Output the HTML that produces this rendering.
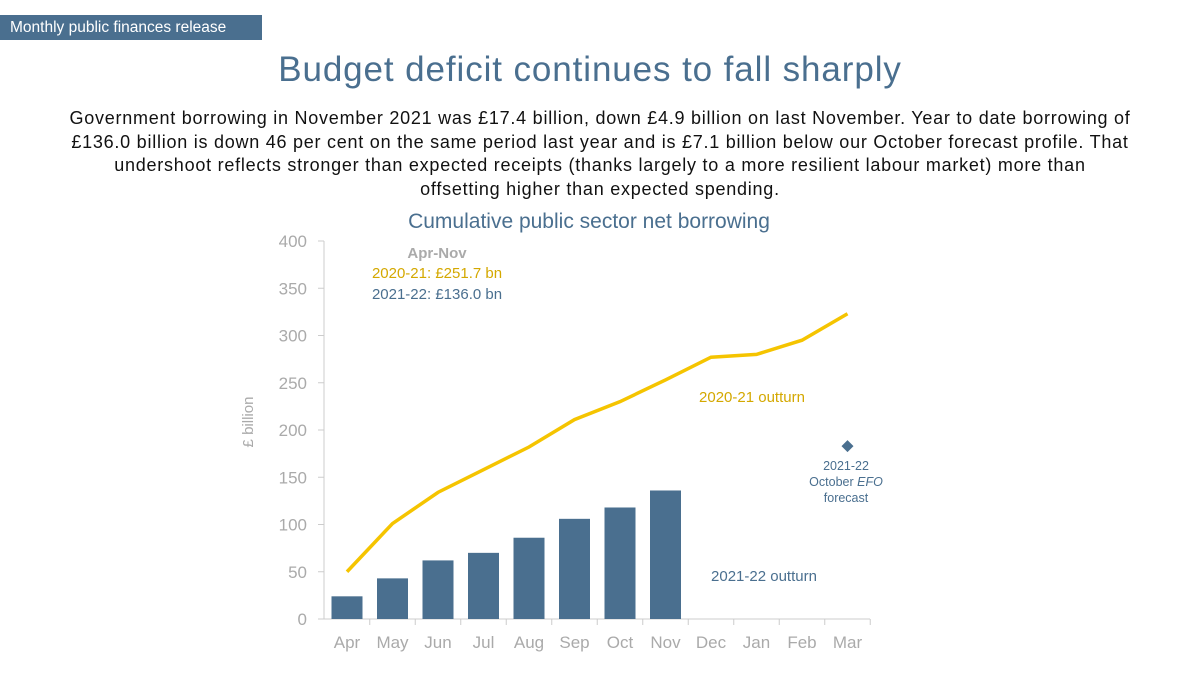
<!DOCTYPE html>
<html><head><meta charset="utf-8"><style>
body{margin:0;width:1200px;height:673px;background:#fff;font-family:"Liberation Sans",sans-serif;position:relative;overflow:hidden}
.tag{position:absolute;left:0;top:15px;width:262px;height:25px;background:#4a6f8f;color:#fff;font-size:15.5px;line-height:26px;padding-left:10px;box-sizing:border-box}
h1{position:absolute;top:50px;left:0;width:1180px;text-align:center;margin:0;font-weight:normal;font-size:35px;letter-spacing:0.9px;color:#4a6f8f}
.sub{position:absolute;top:107px;left:0;width:1200px;text-align:center;font-size:18px;letter-spacing:0.75px;line-height:23.5px;color:#111;white-space:nowrap}
</style></head><body>
<div class="tag">Monthly public finances release</div>
<h1>Budget deficit continues to fall sharply</h1>
<div class="sub">Government borrowing in November 2021 was £17.4 billion, down £4.9 billion on last November. Year to date borrowing of<br>£136.0 billion is down 46 per cent on the same period last year and is £7.1 billion below our October forecast profile. That<br>undershoot reflects stronger than expected receipts (thanks largely to a more resilient labour market) more than<br>offsetting higher than expected spending.</div>
<svg id="chart" width="1200" height="673" style="position:absolute;left:0;top:0" font-family="Liberation Sans, sans-serif">
<text x="589" y="228" text-anchor="middle" font-size="21" fill="#4a6f8f">Cumulative public sector net borrowing</text>
<text x="253" y="422" text-anchor="middle" font-size="15" fill="#aaa" transform="rotate(-90 253 422)">£ billion</text>
<text x="437" y="258" text-anchor="middle" font-size="15" font-weight="bold" fill="#aaa">Apr-Nov</text>
<text x="437" y="278" text-anchor="middle" font-size="15" fill="#d4a800">2020-21: £251.7 bn</text>
<text x="437" y="299" text-anchor="middle" font-size="15" fill="#4a6f8f">2021-22: £136.0 bn</text>
<text x="752" y="402" text-anchor="middle" font-size="15" fill="#d4a800">2020-21 outturn</text>
<text x="764" y="581" text-anchor="middle" font-size="15" fill="#4a6f8f">2021-22 outturn</text>
<g font-size="12.5" fill="#4a6f8f" text-anchor="middle">
<text x="846" y="470">2021-22</text><text x="846" y="486">October <tspan font-style="italic">EFO</tspan></text><text x="846" y="502">forecast</text></g>
<g id="g"></g>
</svg>
<script>
const months=["Apr","May","Jun","Jul","Aug","Sep","Oct","Nov","Dec","Jan","Feb","Mar"];
const bars2122=[24,43,62,70,86,106,118,136];
const line2021=[50,101,134,158,182,211,230,253,277,280,295,323];
const forecastMar=[183];
const yTicks=[0,50,100,150,200,250,300,350,400];
const ns="http://www.w3.org/2000/svg",g=document.getElementById('g');
const x=i=>347+i*45.5, y=v=>619-v*0.945;
function mk(t,a){const e=document.createElementNS(ns,t);for(const k in a)e.setAttribute(k,a[k]);g.appendChild(e);return e;}
yTicks.forEach(v=>{const t=mk('text',{x:307,y:y(v)+6,'text-anchor':'end','font-size':17,fill:'#aaa'});t.textContent=v;


const l=mk('line',{x1:318,x2:324,y1:y(v),y2:y(v),stroke:'#ccc'});

});
const ax=mk('line',{x1:324,x2:324,y1:y(400),y2:y(0),stroke:'#ccc'});


const xa=mk('line',{x1:324,x2:870,y1:y(0),y2:y(0),stroke:'#ccc'});


months.forEach((m,i)=>{const t=mk('text',{x:x(i),y:648,'text-anchor':'middle','font-size':17,fill:'#aaa'});t.textContent=m;


const l=mk('line',{x1:x(i)+22.75,x2:x(i)+22.75,y1:y(0),y2:y(0)+6,stroke:'#ccc'});

});
bars2122.forEach((v,i)=>{const r=mk('rect',{x:x(i)-15.5,y:y(v),width:31,height:y(0)-y(v),fill:'#4a6f8f'});

});
const p=mk('polyline',{points:line2021.map((v,i)=>x(i)+','+y(v)).join(' '),fill:'none',stroke:'#f5c400','stroke-width':3.5});


const fx=x(11),fy=y(forecastMar[0]);
const d=mk('polygon',{points:`${fx},${fy-6} ${fx+6},${fy} ${fx},${fy+6} ${fx-6},${fy}`,fill:'#4a6f8f'});


</script>
</body></html>
